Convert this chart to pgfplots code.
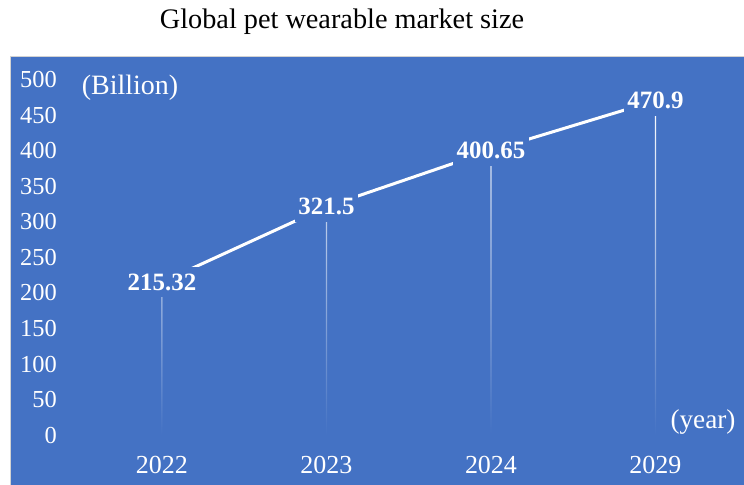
\documentclass[border=0pt]{standalone}
\usepackage{fontspec}
\setmainfont{Liberation Serif}
\usepackage{pgfplots}
\pgfplotsset{compat=1.18}
\definecolor{bg}{HTML}{4472C4}

\begin{document}
\begin{tikzpicture}
\useasboundingbox (-7.5pt,0) rectangle (550.5pt,363.75pt);
\begin{axis}[
    at={(0,0)}, anchor=south west,
    scale only axis, width=550.5pt, height=321.75pt,
    xmin=-0.924, xmax=3.538,
    ymin=-70.4, ymax=533.8,
    axis background/.style={fill=bg, draw=gray!35},
    axis line style={draw=none},
    major tick length=0pt,
    xtick={0,1,2,3},
    xticklabels={2022,2023,2024,2029},
    ytick={0,50,...,500},
    /pgf/number format/assume math mode=true,
    xticklabel style={anchor=center, inner sep=0pt, yshift=15pt, text=white,
        font=\fontsize{19.5}{23}\selectfont},
    yticklabel style={anchor=east, inner sep=0pt, xshift=35.25pt, text=white,
        font=\fontsize{18.3}{22}\selectfont},
    clip=false,
]
% drop lines
\addplot[ybar, bar width=1.1pt, bar shift=0pt, draw=none,
    top color=white, bottom color=bg]
    coordinates {(0,215.32) (1,321.5) (2,400.65) (3,470.9)};
% market size
\addplot[white, line width=2.25pt, mark=none,
    nodes near coords, point meta=explicit symbolic,
    every node near coord/.append style={anchor=center, fill=bg,
        inner xsep=2.5pt, inner ysep=5pt,
        text=white, font=\bfseries\fontsize{18.7}{22}\selectfont}]
    coordinates {
    (0,215.32) [215.32]
    (1,321.5)  [321.5]
    (2,400.65) [400.65]
    (3,470.9)  [470.9]
    };
\end{axis}
\node[font=\fontsize{21.2}{25}\selectfont] at (249pt,347.25pt) {Global pet wearable market size};
\node[text=white, font=\fontsize{21}{25}\selectfont] at (90pt,297.75pt) {(Billion)};
\node[text=white, font=\fontsize{20.4}{24}\selectfont] at (519.75pt,47.25pt) {(year)};
\end{tikzpicture}
\end{document}
